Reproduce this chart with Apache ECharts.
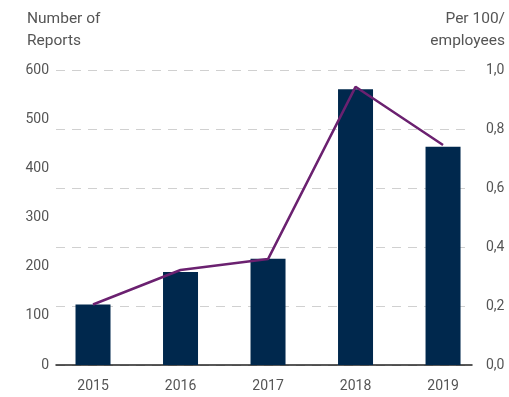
<!DOCTYPE html>
<html>
<head>
<meta charset="utf-8">
<script src="https://cdn.jsdelivr.net/npm/echarts@6/dist/echarts.min.js"></script>
<style>
  html, body { margin: 0; padding: 0; background: #fff; }
  #chart { width: 509px; height: 397px; }
</style>
</head>
<body>
<div id="chart"></div>
<script>
// Yearly report counts (bars, left axis) and rate per 100 employees (line, right axis)
var years = [2015, 2016, 2017, 2018, 2019];
var reports = [123, 189, 216, 561, 444];
var perHundred = [0.205, 0.322, 0.359, 0.943, 0.746];
var leftTicks = [0, 100, 200, 300, 400, 500, 600];
var rightTicks = [0, 0.2, 0.4, 0.6, 0.8, 1.0];
var leftTitle = 'Number of\nReports';
var rightTitle = 'Per 100/\nemployees';

var textColor = '#555';
var fontFamily = 'Roboto, "Open Sans", sans-serif';

var chart = echarts.init(document.getElementById('chart'), null, { renderer: 'canvas' });

function titleStyle(text, align) {
  return {
    text: text,
    fill: textColor,
    font: '15.5px ' + fontFamily,
    lineHeight: 22,
    align: align,
    verticalAlign: 'top'
  };
}

chart.setOption({
  animation: false,
  backgroundColor: '#fff',
  graphic: [
    { type: 'text', x: 27, y: 8, style: titleStyle(leftTitle, 'left') },
    { type: 'text', x: 505, y: 8, style: titleStyle(rightTitle, 'right') }
  ],
  grid: { left: 56, right: 37, top: 70, bottom: 32, containLabel: false },
  xAxis: {
    type: 'value',
    min: 2014.577,
    max: 2019.331,
    axisLine: { show: true, lineStyle: { color: '#222', width: 1.5 } },
    axisTick: { show: false },
    splitLine: { show: false },
    axisLabel: {
      customValues: years,
      color: textColor, fontSize: 14, fontFamily: fontFamily, margin: 14,
      formatter: function (v) { return String(Math.round(v)); }
    }
  },
  yAxis: [
    {
      type: 'value',
      min: leftTicks[0], max: leftTicks[leftTicks.length - 1], interval: 100,
      axisLine: { show: false },
      axisTick: { show: false },
      splitLine: { show: false },
      axisLabel: { color: textColor, fontSize: 14, fontFamily: fontFamily, margin: 7 }
    },
    {
      type: 'value',
      min: rightTicks[0], max: rightTicks[rightTicks.length - 1], interval: 0.2,
      position: 'right',
      axisLine: { show: false },
      axisTick: { show: false },
      splitLine: { show: true, lineStyle: { color: '#d0d0d0', width: 1, type: [9, 7] } },
      axisLabel: {
        color: textColor, fontSize: 14, fontFamily: fontFamily, margin: 14,
        formatter: function (v) { return v.toFixed(1).replace('.', ','); }
      }
    }
  ],
  series: [
    {
      type: 'bar',
      yAxisIndex: 0,
      barWidth: 35,
      itemStyle: { color: '#00284d' },
      data: years.map(function (y, i) { return [y, reports[i]]; }),
      z: 2
    },
    {
      type: 'line',
      yAxisIndex: 1,
      symbol: 'none',
      lineStyle: { color: '#6b2170', width: 2.5 },
      data: years.map(function (y, i) { return [y, perHundred[i]]; }),
      z: 3
    }
  ]
});
</script>
</body>
</html>
